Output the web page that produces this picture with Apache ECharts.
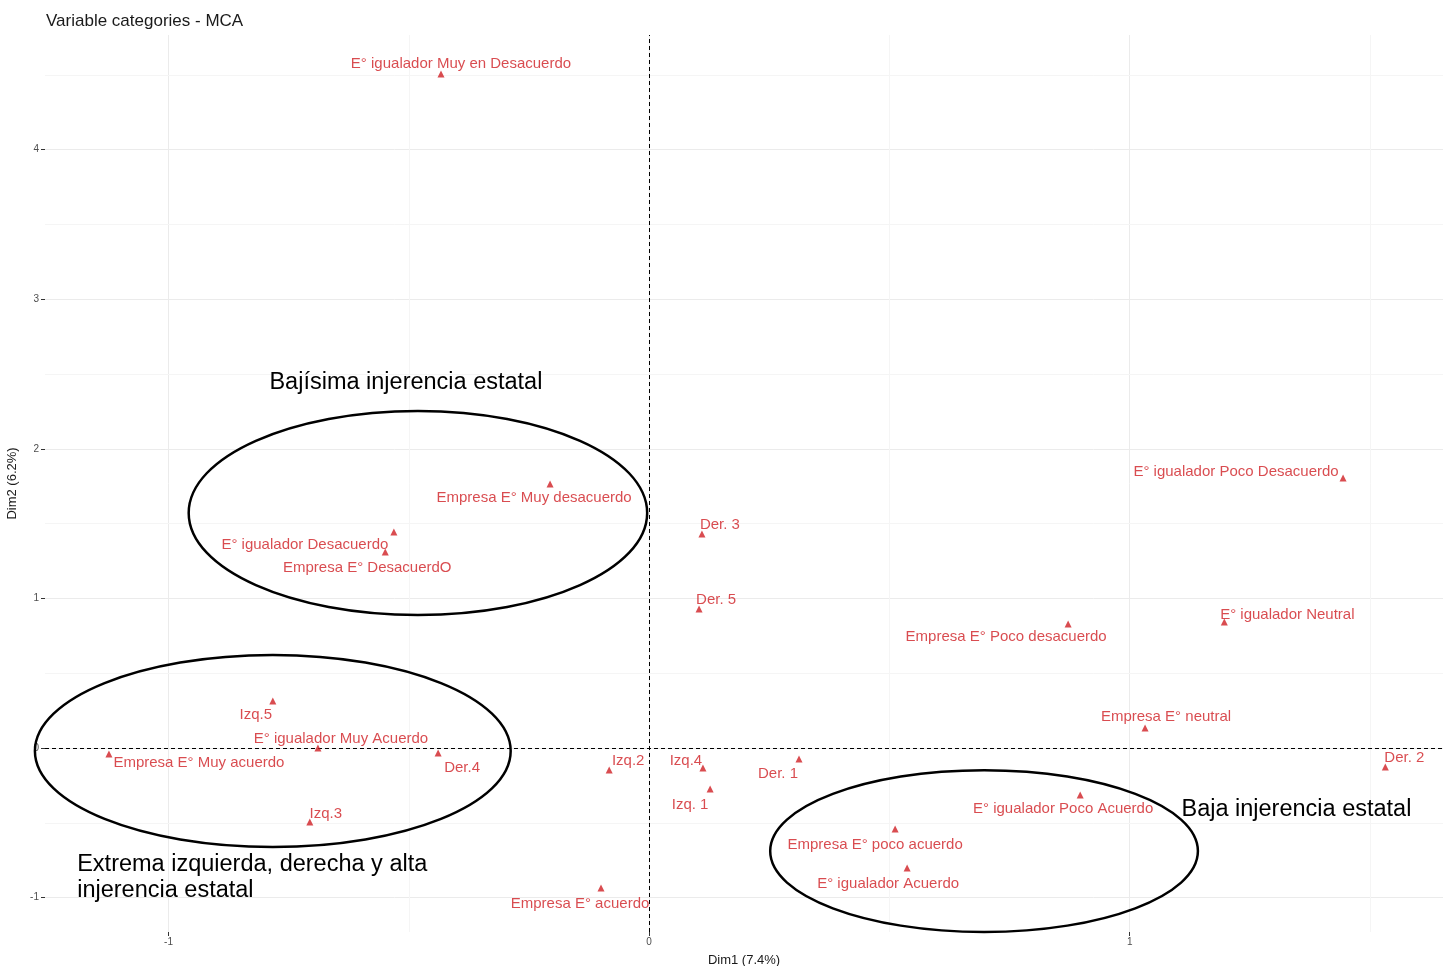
<!DOCTYPE html>
<html>
<head>
<meta charset="utf-8">
<script src="https://cdn.jsdelivr.net/npm/echarts@6/dist/echarts.min.js"></script>
<style>
html,body{margin:0;padding:0;background:#fff;}
#chart{width:1443px;height:966px;}
</style>
</head>
<body>
<div id="chart"></div>
<script>
// ---- data ----
const categories = [
  "E° igualador Muy en Desacuerdo", "Empresa E° Muy desacuerdo", "E° igualador Desacuerdo",
  "Empresa E° DesacuerdO", "Der. 3", "Der. 5", "E° igualador Poco Desacuerdo",
  "Empresa E° Poco desacuerdo", "E° igualador Neutral", "Empresa E° neutral", "Der. 2",
  "Izq.5", "E° igualador Muy Acuerdo", "Empresa E° Muy acuerdo", "Der.4", "Izq.3",
  "Izq.2", "Izq.4", "Izq. 1", "Der. 1", "E° igualador Poco Acuerdo",
  "Empresa E° poco acuerdo", "E° igualador Acuerdo", "Empresa E° acuerdo"
];
const dim1 = [-0.433, -0.206, -0.531, -0.549, 0.110, 0.104, 1.444, 0.872, 1.197, 1.032, 1.532,
  -0.783, -0.689, -1.124, -0.439, -0.706, -0.083, 0.112, 0.127, 0.312, 0.897, 0.512, 0.537, -0.100];
const dim2 = [4.505, 1.765, 1.444, 1.310, 1.430, 0.929, 1.805, 0.829, 0.842, 0.134, -0.127,
  0.314, 0.000, -0.040, -0.033, -0.495, -0.147, -0.134, -0.274, -0.074, -0.314, -0.541, -0.802, -0.936];

const xTicks = [-1, 0, 1];
const yTicks = [-1, 0, 1, 2, 3, 4];
const xMinor = [-0.5, 0.5, 1.5];
const yMinor = [-0.5, 0.5, 1.5, 2.5, 3.5, 4.5];

// group annotations: [centerDim1, centerDim2, radiusDim1, radiusDim2]
const groupEllipses = [
  [-0.481, 1.571, 0.477, 0.682],
  [-0.783, -0.020, 0.495, 0.642],
  [0.697, -0.689, 0.445, 0.541]
];
const groupLabels = ["Bajísima injerencia estatal", "Baja injerencia estatal", "Extrema izquierda, derecha y alta\ninjerencia estatal"];
const groupLabelX = [-0.506, 1.347, -1.190];
const groupLabelY = [2.44, -0.414, -0.869];

// ---- styling (label offsets in px from the marker centre) ----
const labelOffsets = [
  [20,-10],[-16,14],[-89,13],[-18,16],[18,-9],[17,-9],[-107,-6],[-62,13],[63,-7],[21,-11],[19,-9],
  [-17,14],[23,-9],[90,9],[24,15],[16,-8],[19,-9],[-17,-7],[-20,16],[-21,15],[-17,14],[-20,16],[-19,16],[-21,16]
];
const groupAlign = ['center', 'center', 'left'];

const FONT = '"Liberation Sans", Arial, sans-serif';
const RED = '#d01f24';
const SYM = 7;

const pointData = categories.map((c, i) => ({
  name: c,
  value: [dim1[i], dim2[i]],
  label: { position: [labelOffsets[i][0] + SYM / 2, labelOffsets[i][1] + SYM / 2] }
}));

const gridLines = [];
xTicks.forEach(v => gridLines.push({ xAxis: v, lineStyle: { color: '#ebebeb', width: 1, type: 'solid' } }));
yTicks.forEach(v => gridLines.push({ yAxis: v, lineStyle: { color: '#ebebeb', width: 1, type: 'solid' } }));
xMinor.forEach(v => gridLines.push({ xAxis: v, lineStyle: { color: '#f5f5f5', width: 1, type: 'solid' } }));
yMinor.forEach(v => gridLines.push({ yAxis: v, lineStyle: { color: '#f5f5f5', width: 1, type: 'solid' } }));

const chart = echarts.init(document.getElementById('chart'), null, { renderer: 'canvas' });
chart.setOption({
  animation: false,
  backgroundColor: '#fff',
  textStyle: { fontFamily: FONT },
  title: {
    text: 'Variable categories - MCA',
    left: 41, top: 8,
    textStyle: { fontFamily: FONT, fontSize: 17, fontWeight: 'normal', color: '#1a1a1a' }
  },
  grid: { left: 45, right: 0, top: 35, bottom: 34, containLabel: false, outerBoundsMode: 'none' },
  xAxis: {
    type: 'value', min: -1.257, max: 1.652,
    name: 'Dim1 (7.4%)', nameLocation: 'middle', nameGap: 22,
    nameTextStyle: { fontFamily: FONT, fontSize: 13, color: '#1a1a1a' },
    axisLine: { show: false, onZero: false },
    axisTick: { show: true, length: 4, lineStyle: { color: '#333' }, customValues: xTicks },
    axisLabel: { fontFamily: FONT, fontSize: 10, color: '#4d4d4d', margin: 5, customValues: xTicks },
    splitLine: { show: false }
  },
  yAxis: {
    type: 'value', min: -1.23, max: 4.766,
    name: 'Dim2 (6.2%)', nameLocation: 'middle', nameGap: 24,
    nameTextStyle: { fontFamily: FONT, fontSize: 13, color: '#1a1a1a' },
    axisLine: { show: false, onZero: false },
    axisTick: { show: true, length: 4, lineStyle: { color: '#333' }, customValues: yTicks },
    axisLabel: { fontFamily: FONT, fontSize: 10, color: '#4d4d4d', margin: 6, customValues: yTicks },
    splitLine: { show: false }
  },
  series: [
    {
      type: 'scatter', data: [], z: 0, silent: true,
      markLine: { z: 0, silent: true, symbol: 'none', label: { show: false }, animation: false, data: gridLines }
    },
    {
      type: 'scatter', z: 3,
      symbol: 'triangle', symbolSize: SYM,
      itemStyle: { color: RED },
      data: pointData,
      label: {
        show: true, formatter: p => p.name,
        fontFamily: FONT, fontSize: 15, color: RED, align: 'center', verticalAlign: 'middle'
      },
      labelLayout: { hideOverlap: false },
      markLine: {
        z: 2, silent: true, symbol: 'none', label: { show: false }, animation: false,
        lineStyle: { color: '#000', width: 1, type: [4, 3] },
        data: [{ xAxis: 0 }, { yAxis: 0 }]
      }
    },
    {
      type: 'custom', z: 4, silent: true,
      data: groupEllipses,
      renderItem: (params, api) => {
        const c = api.coord([api.value(0), api.value(1)]);
        const s = api.size([api.value(2), api.value(3)]);
        return {
          type: 'ellipse',
          shape: { cx: c[0], cy: c[1], rx: s[0], ry: s[1] },
          style: { fill: null, stroke: '#000', lineWidth: 2.5 }
        };
      }
    },
    {
      type: 'scatter', z: 4, silent: true,
      symbol: 'circle', symbolSize: 2, itemStyle: { color: 'rgba(255,255,255,0)' },
      data: groupLabels.map((t, i) => ({
        name: t, value: [groupLabelX[i], groupLabelY[i]],
        label: { align: groupAlign[i] }
      })),
      label: {
        show: true, position: 'inside', formatter: p => p.name, opacity: 1,
        fontFamily: FONT, fontSize: 23.5, color: '#000', verticalAlign: 'middle', lineHeight: 26
      },
      labelLayout: { hideOverlap: false }
    }
  ]
});
</script>
</body>
</html>
